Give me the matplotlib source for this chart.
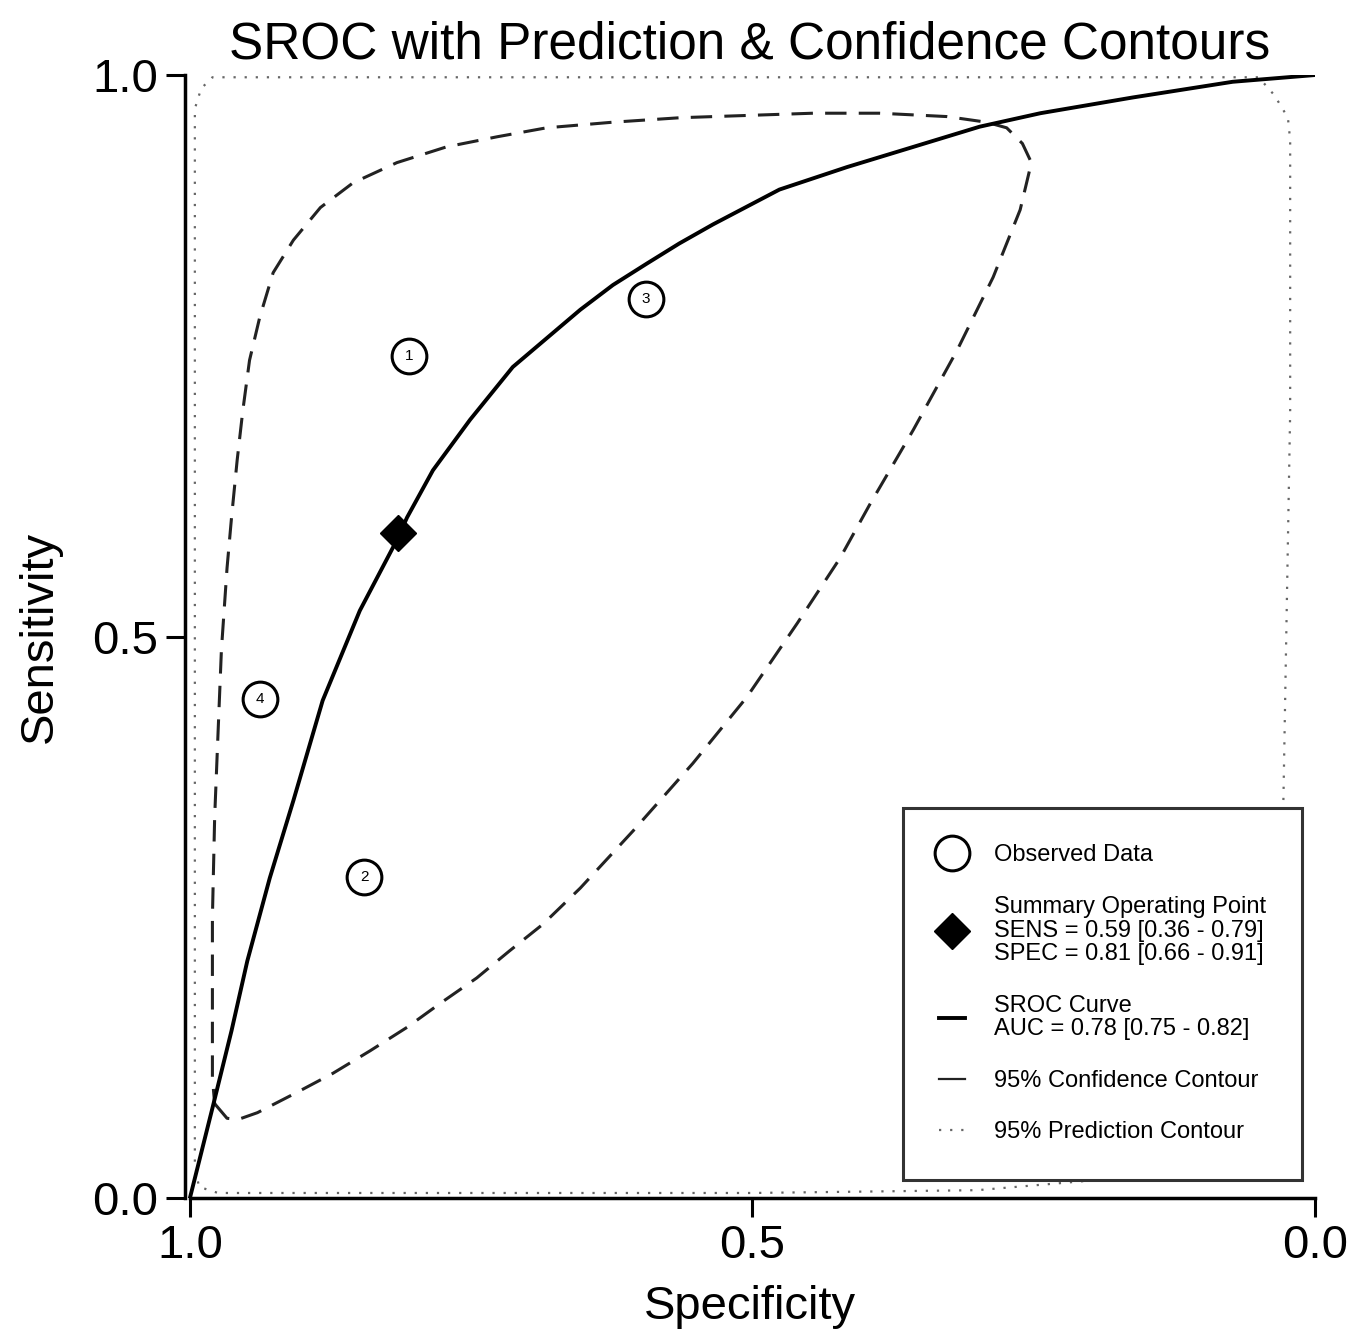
import numpy as np
import matplotlib
matplotlib.use("Agg")
import matplotlib.pyplot as plt
from matplotlib.lines import Line2D

plt.rcParams['font.family'] = ['Liberation Sans', 'DejaVu Sans']

# observed studies (specificity, sensitivity)
study_ids = ['1', '2', '3', '4']
obs_spec = [0.805, 0.845, 0.595, 0.938]
obs_sens = [0.750, 0.286, 0.801, 0.444]

# summary operating point
sum_spec = 0.815
sum_sens = 0.592

# SROC curve
sroc_spec = [1.000, 0.980, 0.963, 0.949, 0.929, 0.908, 0.882, 0.849, 0.816, 0.807,
             0.784, 0.751, 0.713, 0.653, 0.624, 0.594, 0.565, 0.535, 0.476, 0.416,
             0.357, 0.298, 0.244, 0.162, 0.073, 0.000]
sroc_sens = [0.000, 0.080, 0.149, 0.211, 0.285, 0.354, 0.443, 0.523, 0.586, 0.606,
             0.648, 0.693, 0.740, 0.791, 0.813, 0.832, 0.850, 0.867, 0.898, 0.918,
             0.936, 0.954, 0.966, 0.980, 0.994, 1.000]

# 95% confidence contour
conf_spec = [0.978, 0.967, 0.957, 0.940, 0.905, 0.873, 0.840, 0.807, 0.778, 0.745,
             0.716, 0.686, 0.653, 0.606, 0.553, 0.505, 0.460, 0.422, 0.396, 0.357,
             0.318, 0.286, 0.262, 0.252, 0.260, 0.274, 0.292, 0.327, 0.387, 0.446,
             0.505, 0.564, 0.624, 0.683, 0.727, 0.772, 0.816, 0.855, 0.884, 0.908,
             0.926, 0.938, 0.947, 0.953, 0.958, 0.963, 0.967, 0.972, 0.975, 0.978,
             0.980, 0.980, 0.980, 0.978]
conf_sens = [0.084, 0.071, 0.070, 0.076, 0.094, 0.111, 0.131, 0.152, 0.173, 0.196,
             0.220, 0.244, 0.276, 0.327, 0.387, 0.446, 0.512, 0.570, 0.617, 0.684,
             0.755, 0.820, 0.880, 0.922, 0.939, 0.953, 0.958, 0.963, 0.966, 0.966,
             0.964, 0.962, 0.958, 0.953, 0.945, 0.936, 0.922, 0.904, 0.882, 0.853,
             0.824, 0.784, 0.746, 0.701, 0.657, 0.606, 0.561, 0.488, 0.414, 0.339,
             0.250, 0.131, 0.107, 0.084]

# 95% prediction contour (hugs the frame; lower right part sits under the legend)
pred_spec = [0.206, 0.300, 0.500, 0.700, 0.900, 0.975, 0.992, 0.9956, 0.9956, 0.9956,
             0.9956, 0.990, 0.980, 0.800, 0.600, 0.400, 0.200, 0.050, 0.036, 0.024,
             0.022, 0.022, 0.028, 0.035, 0.060, 0.120, 0.206]
pred_sens = [0.015, 0.007, 0.0045, 0.0045, 0.0045, 0.0045, 0.010, 0.030, 0.300, 0.700,
             0.970, 0.988, 0.998, 0.998, 0.998, 0.998, 0.998, 0.998, 0.982, 0.962,
             0.942, 0.700, 0.355, 0.200, 0.080, 0.030, 0.015]

fig = plt.figure(figsize=(13.56, 13.35), dpi=100)
ax = fig.add_axes([0.1364, 0.1026, 0.8333, 0.8412])

ax.plot(pred_spec, pred_sens, color='#666666', lw=1.6, linestyle=(0, (1, 4)), zorder=2)
ax.plot(conf_spec, conf_sens, color='#222222', lw=2.2, linestyle=(0, (7, 4)), zorder=3)
ax.plot(sroc_spec, sroc_sens, color='black', lw=2.8, zorder=4)

ax.plot(obs_spec, obs_sens, 'o', ms=25, mfc='white', mec='black', mew=2.2, zorder=5)
for sid, sx, sy in zip(study_ids, obs_spec, obs_sens):
    ax.text(sx, sy, sid, ha='center', va='center', fontsize=11, zorder=6)
ax.plot([sum_spec], [sum_sens], 'D', ms=18, color='black', zorder=6)

ax.set_xlim(1.0044, 0.0)
ax.set_ylim(0.0, 1.0)
ax.set_xticks([1.0, 0.5, 0.0])
ax.set_yticks([0.0, 0.5, 1.0])
ax.set_xticklabels(['1.0', '0.5', '0.0'])
ax.set_yticklabels(['0.0', '0.5', '1.0'])
ax.tick_params(axis='both', direction='out', length=14, width=2.2, labelsize=34, pad=5)

for s in ['top', 'right']:
    ax.spines[s].set_visible(False)
ax.spines['left'].set_linewidth(2.5)
ax.spines['bottom'].set_linewidth(2.5)
ax.spines['left'].set_bounds(0, 1)
ax.spines['bottom'].set_bounds(1.0, 0.0)

ax.set_xlabel('Specificity', fontsize=34, labelpad=12)
ax.set_ylabel('Sensitivity', fontsize=34, labelpad=22)
ax.set_title('SROC with Prediction & Confidence Contours', fontsize=37, pad=12)

handles = [
    Line2D([], [], marker='o', ls='none', ms=25, mfc='white', mec='black', mew=2.2),
    Line2D([], [], marker='D', ls='none', ms=18, color='black'),
    Line2D([], [], color='black', lw=2.8),
    Line2D([], [], color='#222222', lw=1.6),
    Line2D([], [], color='#666666', lw=1.6, linestyle=(0, (1, 4))),
]
labels = [
    'Observed Data',
    'Summary Operating Point\nSENS = 0.59 [0.36 - 0.79]\nSPEC = 0.81 [0.66 - 0.91]',
    'SROC Curve\nAUC = 0.78 [0.75 - 0.82]',
    '95% Confidence Contour',
    '95% Prediction Contour',
]
leg = ax.legend(handles, labels, loc='lower right', bbox_to_anchor=(0.989, 0.016),
                borderaxespad=0, fontsize=17, frameon=True, fancybox=False,
                framealpha=1.0, edgecolor='#333333', borderpad=1.55,
                labelspacing=1.25, handlelength=1.1, handletextpad=1.2)
for t in leg.get_texts():
    t.set_linespacing(1.1)
leg.get_frame().set_linewidth(2.2)
leg.set_zorder(10)

fig.savefig('out.png', dpi=100, facecolor='white')
